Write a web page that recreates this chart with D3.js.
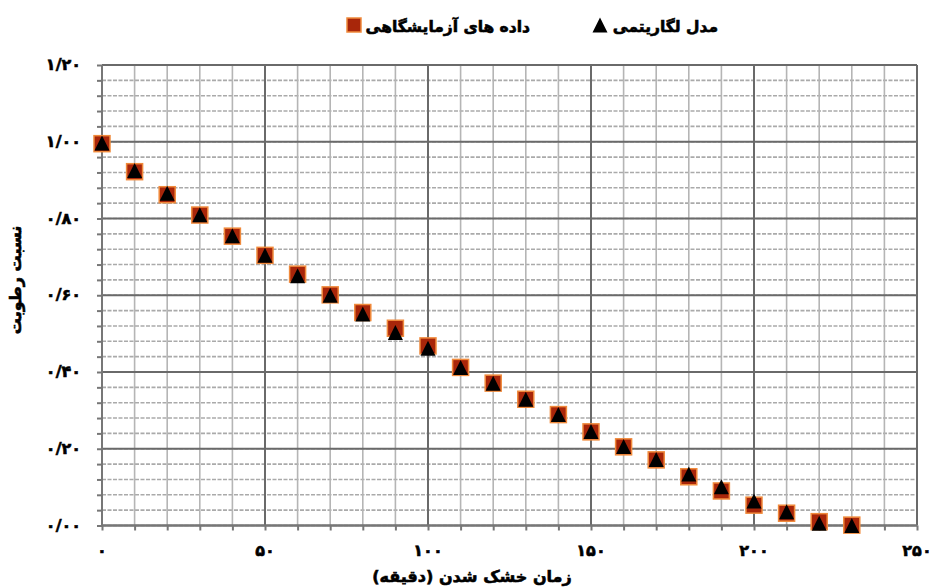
<!DOCTYPE html>
<html>
<head>
<meta charset="utf-8">
<script src="https://cdn.jsdelivr.net/npm/d3@7"></script>
<style>
  html, body { margin: 0; padding: 0; background: #fff; }
  svg { display: block; }
  text { font-family: "DejaVu Sans", sans-serif; font-weight: bold; fill: #000; stroke: #000; stroke-width: 0.6; }
</style>
</head>
<body>
<svg id="chart" width="933" height="588"></svg>
<script>
// ---- data ----
const times = [0,10,20,30,40,50,60,70,80,90,100,110,120,130,140,150,160,170,180,190,200,210,220,230];
const labData = [0.995,0.922,0.862,0.809,0.754,0.704,0.655,0.601,0.555,0.514,0.468,0.412,0.371,0.329,0.289,0.244,0.205,0.171,0.127,0.090,0.053,0.032,0.010,0.001];
const logModel = [0.997,0.925,0.866,0.810,0.755,0.704,0.651,0.600,0.551,0.503,0.462,0.412,0.371,0.329,0.289,0.245,0.206,0.172,0.134,0.101,0.064,0.036,0.006,0.000];
const xTicks = [0,50,100,150,200,250];
const xTickLabels = ["۰","۵۰","۱۰۰","۱۵۰","۲۰۰","۲۵۰"];
const yTicks = [0,0.2,0.4,0.6,0.8,1.0,1.2];
const yTickLabels = ["۰/۰۰","۰/۲۰","۰/۴۰","۰/۶۰","۰/۸۰","۱/۰۰","۱/۲۰"];
const seriesNames = ["داده های آزمایشگاهی","مدل لگاریتمی"];
const xTitle = "زمان خشک شدن (دقیقه)";
const yTitle = "نسبت رطوبت";

// ---- layout ----
const svg = d3.select("#chart");
const L = 102, R = 917, T = 65, B = 525.5;
const x = d3.scaleLinear().domain([0,250]).range([L,R]);
const y = d3.scaleLinear().domain([0,1.2]).range([B,T]);

const minorX = d3.range(0,251,10);
const minorY = d3.range(0,1.2001,0.04);

const grid = svg.append("g");
grid.selectAll("line.hmin").data(minorY).enter().append("line")
  .attr("x1", L).attr("x2", R)
  .attr("y1", d => y(d)).attr("y2", d => y(d))
  .attr("stroke", "#aaaaaa").attr("stroke-width", 1.6)
  .attr("stroke-dasharray", "4,1.5");
grid.selectAll("line.vmin").data(minorX).enter().append("line")
  .attr("y1", T).attr("y2", B)
  .attr("x1", d => x(d)).attr("x2", d => x(d))
  .attr("stroke", "#b5b5b5").attr("stroke-width", 1.6);
grid.selectAll("line.hmaj").data(yTicks).enter().append("line")
  .attr("x1", L).attr("x2", R)
  .attr("y1", d => y(d)).attr("y2", d => y(d))
  .attr("stroke", "#6a6a6a").attr("stroke-width", 2);
grid.selectAll("line.vmaj").data(xTicks).enter().append("line")
  .attr("y1", T).attr("y2", B)
  .attr("x1", d => x(d)).attr("x2", d => x(d))
  .attr("stroke", "#6a6a6a").attr("stroke-width", 2);

// ---- axes ----
const yAxis = d3.axisLeft(y).tickValues(minorY).tickSize(5).tickFormat("");
const gy = svg.append("g").attr("transform", `translate(${L},0)`).call(yAxis);
gy.selectAll("line,path").attr("stroke", "#777").attr("stroke-width", 2);
gy.select("path").attr("d", `M0,${T}V${B}`);

const xAxis = d3.axisBottom(x).tickValues(minorX).tickSize(5).tickFormat("");
const gx = svg.append("g").attr("transform", `translate(0,${B})`).call(xAxis);
gx.selectAll("line,path").attr("stroke", "#777").attr("stroke-width", 2);
gx.select("path").attr("d", `M${L},0H${R}`);

// tick labels
svg.append("g").selectAll("text").data(yTicks).enter().append("text")
  .attr("x", 81).attr("y", d => y(d) + 5)
  .attr("text-anchor", "end").attr("font-size", 16)
  .text((d,i) => yTickLabels[i]);

svg.append("g").selectAll("text").data(xTicks).enter().append("text")
  .attr("x", d => x(d)).attr("y", 556)
  .attr("text-anchor", "middle").attr("font-size", 16)
  .text((d,i) => xTickLabels[i]);

// axis titles
svg.append("text").attr("x", 472).attr("y", 582)
  .attr("text-anchor", "middle").attr("direction", "rtl").attr("font-size", 16)
  .text(xTitle);
svg.append("text")
  .attr("transform", "translate(21,280) rotate(-90)")
  .attr("text-anchor", "middle").attr("direction", "rtl").attr("font-size", 16)
  .text(yTitle);

// ---- markers ----
const sq = 16, tw = 15, th = 15;
const triPath = `M0,${-th/2}L${tw/2},${th/2}L${-tw/2},${th/2}Z`;

svg.append("g").selectAll("rect").data(times).enter().append("rect")
  .attr("x", (d) => x(d) - sq/2)
  .attr("y", (d,i) => y(labData[i]) - sq/2)
  .attr("width", sq).attr("height", sq)
  .attr("fill", "#a8260a").attr("stroke", "#f08a3c").attr("stroke-width", 1.5);

svg.append("g").selectAll("path").data(times).enter().append("path")
  .attr("d", triPath)
  .attr("transform", (d,i) => `translate(${x(d)},${y(logModel[i])})`)
  .attr("fill", "#000");

// ---- legend ----
const lg = svg.append("g");
lg.append("rect").attr("x", 347).attr("y", 18).attr("width", 14).attr("height", 14)
  .attr("fill", "#a8260a").attr("stroke", "#f08a3c").attr("stroke-width", 1.5);
lg.append("text").attr("x", 530).attr("y", 32).attr("text-anchor", "end")
  .attr("font-size", 15.5).text(seriesNames[0]);
lg.append("path").attr("d", triPath).attr("transform", "translate(600,25)").attr("fill", "#000");
lg.append("text").attr("x", 718).attr("y", 32).attr("text-anchor", "end")
  .attr("font-size", 15.5).text(seriesNames[1]);
</script>
</body>
</html>
